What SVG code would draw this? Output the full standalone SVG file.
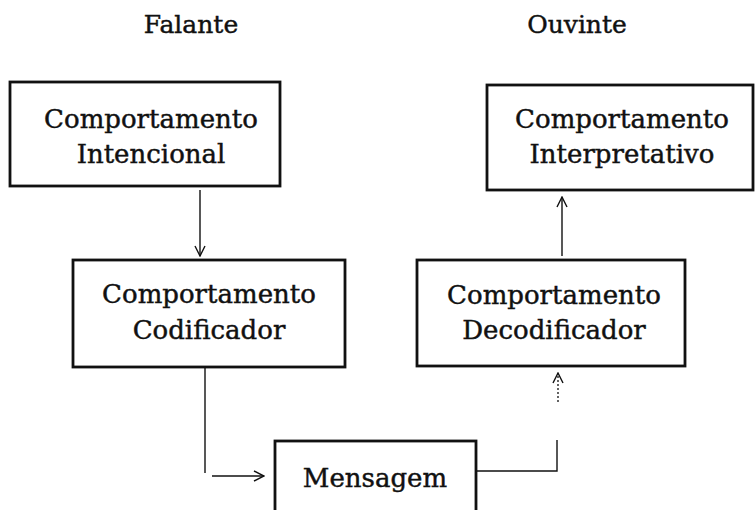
<svg xmlns="http://www.w3.org/2000/svg" width="755" height="510" viewBox="0 0 755 510">
<style>
text{font-family:"DejaVu Serif","Liberation Serif",serif;font-size:26px;fill:#111;stroke:#111;stroke-width:0.45;text-anchor:middle}
.hd{font-size:25px}
.box{fill:#fff;stroke:#111;stroke-width:2.8}
.ln{fill:none;stroke:#111;stroke-width:1.4}
.dot{fill:none;stroke:#111;stroke-width:1.3;stroke-dasharray:2 2}
</style>
<defs>
<marker id="arr" viewBox="0 0 12 12" refX="11" refY="6" markerWidth="12" markerHeight="12" markerUnits="userSpaceOnUse" orient="auto">
<path d="M1,1 L11,6 L1,11" fill="none" stroke="#111" stroke-width="1.4"/>
</marker>
</defs>
<rect width="755" height="510" fill="#fff"/>
<text class="hd" x="191" y="33">Falante</text>
<text class="hd" x="577" y="33">Ouvinte</text>
<g id="connectors">
<line class="ln" x1="200" y1="190" x2="200" y2="256" marker-end="url(#arr)"/>
<line class="ln" x1="205" y1="368" x2="205" y2="473"/>
<line class="ln" x1="212" y1="476" x2="264" y2="476" marker-end="url(#arr)"/>
<polyline class="ln" points="477,471 557,471 557,440"/>
<line class="dot" x1="558" y1="402" x2="558" y2="373" marker-end="url(#arr)"/>
<line class="ln" x1="562" y1="256" x2="562" y2="197" marker-end="url(#arr)"/>
</g>
<g id="intencional">
<rect class="box" x="10" y="82" width="270" height="104"/>
<text x="151" y="128">Comportamento</text>
<text x="151" y="163">Intencional</text>
</g>
<g id="codificador">
<rect class="box" x="73" y="260" width="272" height="107"/>
<text x="209" y="303">Comportamento</text>
<text x="209" y="339">Codificador</text>
</g>
<g id="interpretativo">
<rect class="box" x="487" y="85" width="266" height="105"/>
<text x="622" y="128">Comportamento</text>
<text x="622" y="163">Interpretativo</text>
</g>
<g id="decodificador">
<rect class="box" x="417" y="260" width="268" height="106"/>
<text x="554" y="304">Comportamento</text>
<text x="554" y="339">Decodificador</text>
</g>
<g id="mensagem">
<rect class="box" x="275" y="441" width="201" height="80"/>
<text x="375" y="487">Mensagem</text>
</g>
</svg>
